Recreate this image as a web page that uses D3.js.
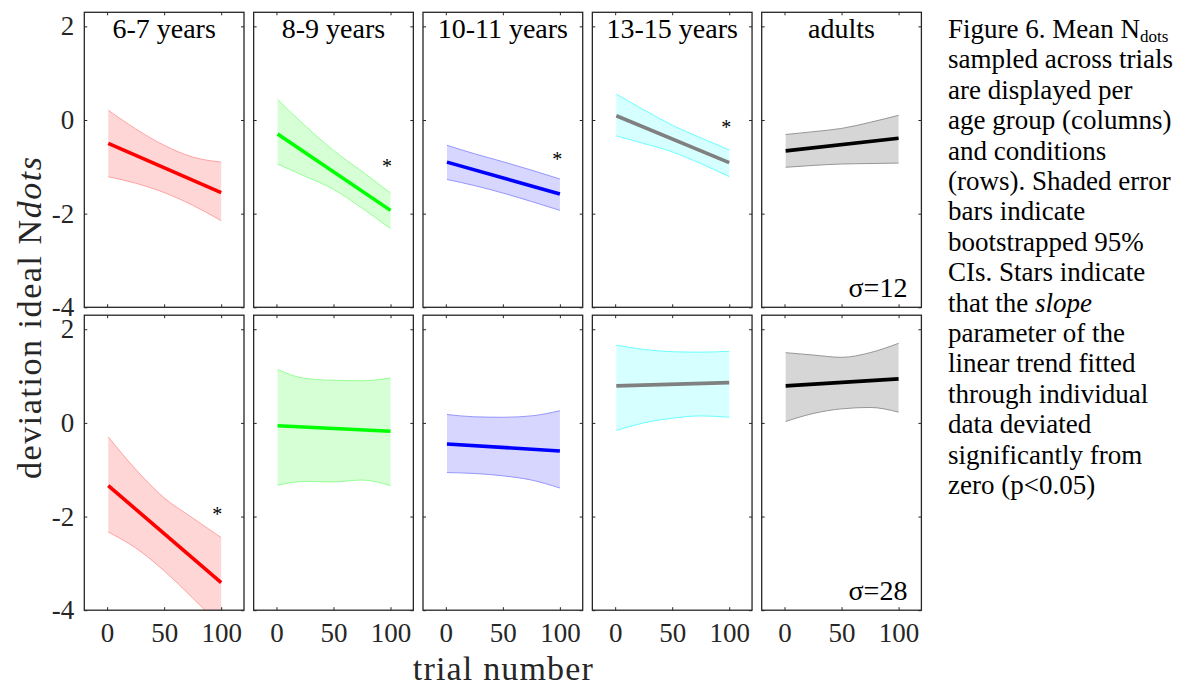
<!DOCTYPE html>
<html>
<head>
<meta charset="utf-8">
<script src="https://cdn.jsdelivr.net/npm/d3@7"></script>
<style>
  body { margin: 0; background: #fff; }
</style>
</head>
<body>
<svg id="chart" width="1178" height="686"></svg>
<script>
// age groups (columns) and conditions (rows)
const groups = ['6-7 years', '8-9 years', '10-11 years', '13-15 years', 'adults'];
const conditions = ['σ=12', 'σ=28'];

// trial positions where the CI band edges were read
const ciTrials = [1, 25, 50, 75, 100];
const fitTrials = [1, 100];

// fitted line: value at trial 1 and at trial 100, per group
const fitS12 = [[-0.5, -1.55], [-0.3, -1.93], [-0.9, -1.58], [0.09, -0.91], [-0.66, -0.39]];
const fitS28 = [[-1.34, -3.41], [-0.06, -0.18], [-0.45, -0.6], [0.79, 0.86], [0.79, 0.94]];

// bootstrapped 95% CI, upper and lower edges
const upperS12 = [
  [0.21, -0.19, -0.54, -0.79, -0.9],
  [0.44, -0.12, -0.65, -1.1, -1.56],
  [-0.54, -0.72, -0.89, -1.07, -1.26],
  [0.55, 0.22, -0.11, -0.38, -0.64],
  [-0.31, -0.25, -0.18, -0.05, 0.1]
];
const lowerS12 = [
  [-1.21, -1.35, -1.55, -1.82, -2.15],
  [-0.94, -1.2, -1.48, -1.88, -2.32],
  [-1.27, -1.4, -1.56, -1.74, -1.93],
  [-0.34, -0.5, -0.68, -0.93, -1.21],
  [-1.01, -0.97, -0.94, -0.93, -0.92]
];
const upperS28 = [
  [-0.3, -0.99, -1.6, -2.03, -2.45],
  [1.14, 0.95, 0.91, 0.9, 0.96],
  [0.18, 0.13, 0.12, 0.15, 0.26],
  [1.66, 1.57, 1.52, 1.51, 1.53],
  [1.5, 1.45, 1.4, 1.5, 1.7]
];
const lowerS28 = [
  [-2.33, -2.67, -3.16, -3.74, -4.35],
  [-1.33, -1.25, -1.26, -1.22, -1.34],
  [-1.06, -1.08, -1.13, -1.22, -1.39],
  [-0.16, 0.0, 0.1, 0.15, 0.12],
  [0.03, 0.2, 0.3, 0.33, 0.23]
];

// significance stars [trial, value], null when not significant
const starsS12 = [null, [97, -0.95], [97.6, -0.78], [97.4, -0.11], null];
const starsS28 = [[96.5, -1.9], null, null, null, null];

const xTicks = [0, 50, 100];
const yTicks = [-4, -2, 0, 2];

const captionLines = [
  'Figure 6. Mean N|dots', 'sampled across trials', 'are displayed per',
  'age group (columns)', 'and conditions', '(rows). Shaded error',
  'bars indicate', 'bootstrapped 95%', 'CIs. Stars indicate',
  'that the /slope/', 'parameter of the', 'linear trend fitted',
  'through individual', 'data deviated', 'significantly from',
  'zero (p<0.05)'
];

const lineColors = ['#ff0000', '#00ff00', '#0000ff', '#808080', '#000000'];
const fillColors = ['#ffd6d6', '#d6ffd6', '#d6d6ff', '#d6ffff', '#d6d6d6'];
const edgeColors = ['#ff9a9a', '#8cff8c', '#8c8cff', '#5cffff', '#8c8c8c'];

const rows = [
  { fit: fitS12, upper: upperS12, lower: lowerS12, stars: starsS12 },
  { fit: fitS28, upper: upperS28, lower: lowerS28, stars: starsS28 }
];

const FONT = '"Liberation Serif", monospace';

const svg = d3.select('#chart');

const left0 = 84.3, pitch = 169.35, pw = 159.7, ph = 295;
const rowTops = [12.3, 315.2];

const x = d3.scaleLinear().domain([-20, 120]).range([0, pw]);
const y = d3.scaleLinear().domain([-4, 2.3]).range([ph, 0]);

const defs = svg.append('defs');
defs.append('clipPath').attr('id', 'panel-clip')
  .append('rect').attr('width', pw).attr('height', ph);

const area = d3.area()
  .x(d => x(d.t))
  .y0(d => y(d.lo))
  .y1(d => y(d.hi))
  .curve(d3.curveMonotoneX);

const edge = d3.line()
  .x(d => x(d.t))
  .y(d => y(d.v))
  .curve(d3.curveMonotoneX);

function label(sel, size) {
  return sel.style('font-family', FONT).style('font-size', size + 'px');
}

rows.forEach((row, ri) => {
  groups.forEach((grp, gi) => {
    const g = svg.append('g')
      .attr('transform', `translate(${left0 + gi * pitch},${rowTops[ri]})`);

    const plot = g.append('g').attr('clip-path', 'url(#panel-clip)');

    const band = ciTrials.map((t, i) => ({ t: t, hi: row.upper[gi][i], lo: row.lower[gi][i] }));

    plot.append('path')
      .attr('d', area(band))
      .attr('fill', fillColors[gi]);

    plot.append('path')
      .attr('d', edge(band.map(d => ({ t: d.t, v: d.hi }))))
      .attr('fill', 'none')
      .attr('stroke', edgeColors[gi])
      .attr('stroke-width', 0.9);

    plot.append('path')
      .attr('d', edge(band.map(d => ({ t: d.t, v: d.lo }))))
      .attr('fill', 'none')
      .attr('stroke', edgeColors[gi])
      .attr('stroke-width', 0.9);

    plot.append('path')
      .attr('d', d3.line().x(d => x(d.t)).y(d => y(d.v))(
        fitTrials.map((t, i) => ({ t: t, v: row.fit[gi][i] }))))
      .attr('fill', 'none')
      .attr('stroke', lineColors[gi])
      .attr('stroke-width', 3.6);

    const star = row.stars[gi];
    if (star) {
      label(g.append('text'), 20)
        .attr('x', x(star[0]))
        .attr('y', y(star[1]) + 9)
        .attr('text-anchor', 'middle')
        .text('*');
    }

    // axes with ticks pointing inward
    const yLeft = d3.axisLeft(y).tickValues(yTicks).tickSizeInner(-3).tickSizeOuter(0)
      .tickPadding(10).tickFormat(gi === 0 ? (d => String(d)) : () => '');
    const yRight = d3.axisRight(y).tickValues(yTicks).tickSizeInner(-3).tickSizeOuter(0)
      .tickFormat(() => '');
    const xTop = d3.axisTop(x).tickValues(xTicks).tickSizeInner(-3).tickSizeOuter(0)
      .tickFormat(() => '');
    const xBottom = d3.axisBottom(x).tickValues(xTicks).tickSizeInner(-3).tickSizeOuter(0)
      .tickPadding(13).tickFormat(ri === 1 ? (d => String(d)) : () => '');

    const axes = [
      g.append('g').call(yLeft),
      g.append('g').attr('transform', `translate(${pw},0)`).call(yRight),
      g.append('g').call(xTop),
      g.append('g').attr('transform', `translate(0,${ph})`).call(xBottom)
    ];
    axes.forEach(a => {
      a.attr('font-family', null).attr('font-size', null);
      a.select('.domain').remove();
      a.selectAll('.tick line').attr('stroke', '#262626').attr('stroke-width', 1);
      label(a.selectAll('.tick text'), 27).attr('fill', '#262626');
    });

    g.append('rect')
      .attr('width', pw).attr('height', ph)
      .attr('fill', 'none')
      .attr('stroke', '#262626')
      .attr('stroke-width', 1.3);

    if (ri === 0) {
      label(g.append('text'), 28)
        .attr('x', pw / 2).attr('y', 26)
        .attr('text-anchor', 'middle')
        .text(grp);
    }

    if (gi === groups.length - 1) {
      label(g.append('text'), 28)
        .attr('x', pw - 14).attr('y', ph - 10)
        .attr('text-anchor', 'end')
        .text(conditions[ri]);
    }
  });
});

// axis titles (wider LaTeX-style lettering in the original)
label(svg.append('text'), 34)
  .attr('x', left0 + 2 * pitch + pw / 2)
  .attr('y', 680)
  .attr('text-anchor', 'middle')
  .attr('textLength', 180)
  .attr('fill', '#262626')
  .text('trial number');

const yLab = label(svg.append('text'), 34)
  .attr('transform', 'translate(41,318) rotate(-90)')
  .attr('text-anchor', 'middle')
  .attr('textLength', 322)
  .attr('fill', '#262626');
yLab.append('tspan').text('deviation ideal N');
yLab.append('tspan').style('font-style', 'italic').text('dots');

// caption
const cap = svg.append('g').attr('transform', 'translate(948,38)');
captionLines.forEach((line, i) => {
  const t = label(cap.append('text'), 27).attr('y', i * 30.4);
  if (line.includes('|')) {
    const parts = line.split('|');
    t.append('tspan').text(parts[0]);
    t.append('tspan').attr('dy', 4).style('font-size', '17px').text(parts[1]);
  } else if (line.includes('/')) {
    const parts = line.split('/');
    t.append('tspan').text(parts[0]);
    t.append('tspan').style('font-style', 'italic').text(parts[1]);
  } else {
    t.text(line);
  }
});
</script>
</body>
</html>
